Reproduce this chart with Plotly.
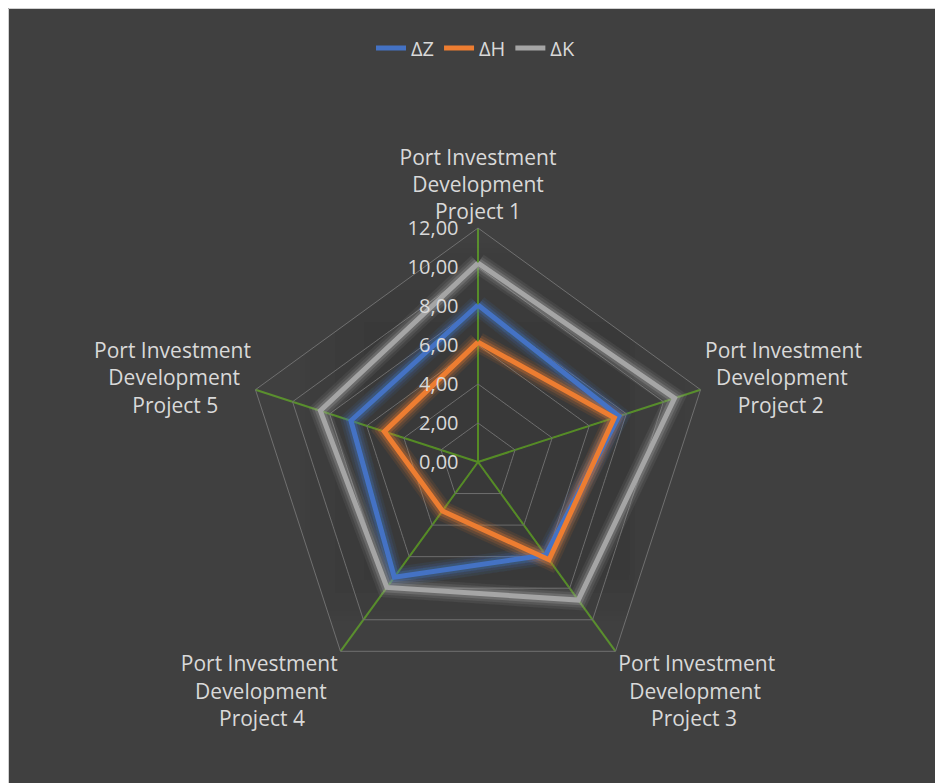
import plotly.graph_objects as go

categories = [
    "Port Investment Development Project 1",
    "Port Investment Development Project 2",
    "Port Investment Development Project 3",
    "Port Investment Development Project 4",
    "Port Investment Development Project 5",
]
series_names = ["ΔZ", "ΔH", "ΔK"]
dZ = [8.05, 7.6, 5.9, 7.3, 6.85]
dH = [6.15, 7.35, 6.2, 3.1, 5.05]
dK = [10.2, 10.6, 8.75, 7.95, 8.5]
radial_ticks = [0, 2, 4, 6, 8, 10, 12]

colors = ["#4472C4", "#ED7D31", "#A5A5A5"]
values = [dZ, dH, dK]

# tick labels: three lines, visually centred (nbsp padding on the free side)
NB = "\u00a0"
def wrap(cat, pad_side):
    w = cat.split(" ")
    lines = [" ".join(w[0:2]), w[2], " ".join(w[3:5])]
    pads = [0, 2, 6]
    out = []
    for ln, p in zip(lines, pads):
        if pad_side == "left":
            out.append(NB * p + ln)
        elif pad_side == "right":
            out.append(ln + NB * p)
        else:
            out.append(ln)
    return "<br>".join(out)

pad_sides = ["none", "left", "left", "right", "right"]
tick_text = [wrap(c, s) for c, s in zip(categories, pad_sides)]

fig = go.Figure()

# glow layers
for name, vals, col in zip(series_names, values, colors):
    r = vals + vals[:1]
    th = categories + categories[:1]
    for w, op in [(20, 0.10), (15, 0.15), (10, 0.28)]:
        fig.add_trace(go.Scatterpolar(
            r=r, theta=th, mode="lines",
            line=dict(color=col, width=w), opacity=op,
            showlegend=False, hoverinfo="skip",
        ))

for name, vals, col in zip(series_names, values, colors):
    fig.add_trace(go.Scatterpolar(
        r=vals + vals[:1], theta=categories + categories[:1], mode="lines",
        name=name, line=dict(color=col, width=5),
    ))

# page has an 8px body margin; figure sized to fit the window
W, H = 935, 775
cx, cy, R = 470, 454, 234
fig.update_layout(
    width=W, height=H,
    margin=dict(l=0, r=0, t=0, b=0),
    paper_bgcolor="#404040",
    separators=",.",
    font=dict(family="Open Sans", color="#d9d9d9", size=21),
    shapes=[dict(type="rect", xref="paper", yref="paper",
                 x0=0.5 / W, x1=1.01, y0=-0.01, y1=1 - 0.5 / H,
                 fillcolor="rgba(0,0,0,0)", line=dict(color="#d0d0d0", width=1),
                 layer="below")],
    polar=dict(
        bgcolor="rgba(0,0,0,0)",
        gridshape="linear",
        domain=dict(x=[(cx - R) / W, (cx + R) / W],
                    y=[1 - (cy + R) / H, 1 - (cy - R) / H]),
        radialaxis=dict(
            range=[0, 12], tickvals=radial_ticks, tickformat=".2f",
            angle=90, side="counterclockwise", tickangle=90,
            showline=False, ticks="outside", ticklen=12,
            tickcolor="rgba(0,0,0,0)",
            gridcolor="#707070", gridwidth=1,
            tickfont=dict(size=20, color="#d9d9d9"),
        ),
        angularaxis=dict(
            rotation=90, direction="clockwise",
            tickvals=categories, ticktext=tick_text,
            showline=True, linecolor="#707070", linewidth=1,
            gridcolor="#5A8F2E", gridwidth=1.5,
            ticks="",
            tickfont=dict(size=21, color="#d9d9d9"),
        ),
    ),
    legend=dict(orientation="h", x=0.5, xanchor="center", y=1 - 40 / H,
                yanchor="middle", font=dict(size=20, color="#d9d9d9"),
                bgcolor="rgba(0,0,0,0)"),
)

fig.write_html("out.html")
